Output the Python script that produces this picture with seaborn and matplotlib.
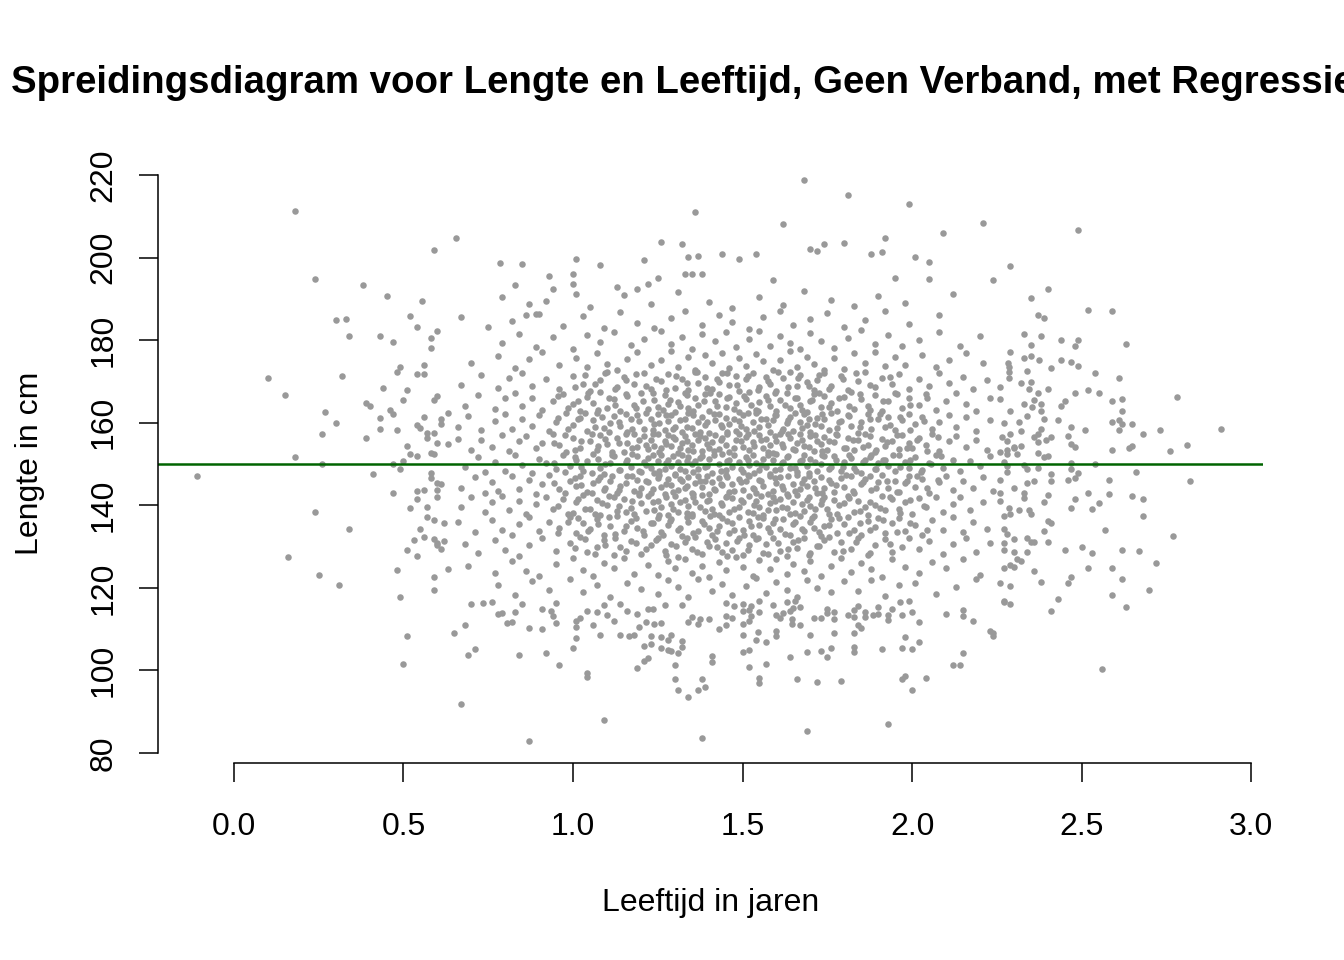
import pandas as pd
import matplotlib
matplotlib.use("Agg")
import matplotlib.pyplot as plt
import seaborn as sns

# Titels en assen
titel = "Spreidingsdiagram voor Lengte en Leeftijd, Geen Verband, met Regressielijn"
x_titel = "Leeftijd in jaren"
y_titel = "Lengte in cm"
x_ticks = [0.0, 0.5, 1.0, 1.5, 2.0, 2.5, 3.0]
x_labels = ["0.0", "0.5", "1.0", "1.5", "2.0", "2.5", "3.0"]
y_ticks = [80, 100, 120, 140, 160, 180, 200, 220]
y_labels = ["80", "100", "120", "140", "160", "180", "200", "220"]

regressie_intercept = 150.0
regressie_helling = 0.0

# Punten (leeftijd, lengte), afgelezen uit de figuur
# linkerrand
punten_links = [
    (-0.11, 147.2), (0.18, 211.3), (0.24, 194.8), (0.10, 170.8), (0.15, 166.7), (0.16, 127.5),
    (0.25, 123.1), (0.31, 120.7), (0.18, 151.7), (0.24, 138.4), (0.26, 150.0), (0.30, 184.9),
    (0.33, 185.1), (0.32, 171.3), (0.34, 181.0), (0.34, 134.3), (0.38, 193.4), (0.39, 164.8),
    (0.40, 164.1), (0.41, 147.6), (0.45, 190.7), (0.48, 124.3), (0.49, 117.8), (0.50, 101.6),
    (0.51, 108.3), (0.47, 143.0), (0.52, 185.9), (0.54, 183.2), (0.555, 189.5), (0.59, 201.8),
    (0.655, 204.8), (0.60, 182.3), (0.43, 181.0), (0.47, 179.6), (0.58, 180.5), (0.58, 178.1),
    (0.56, 174.0), (0.48, 172.3), (0.49, 173.5), (0.54, 171.8), (0.56, 171.8), (0.44, 168.4),
    (0.51, 167.9), (0.50, 165.5), (0.60, 166.5), (0.59, 165.5), (0.27, 162.6), (0.46, 163.1),
    (0.47, 162.1), (0.43, 161.2), (0.43, 158.5), (0.56, 161.4), (0.61, 160.9), (0.61, 159.7),
    (0.30, 159.9), (0.26, 157.3), (0.39, 156.3), (0.48, 158.2), (0.54, 159.5), (0.55, 158.7),
    (0.57, 157.5), (0.57, 156.3), (0.59, 157.5), (0.60, 155.1), (0.63, 154.8), (0.51, 154.4),
    (0.52, 152.4), (0.54, 151.9), (0.58, 152.7), (0.59, 152.4), (0.63, 162.4), (0.47, 150.0),
    (0.49, 148.8), (0.50, 150.7), (0.58, 147.8), (0.58, 146.6), (0.60, 145.4), (0.61, 145.2),
    (0.54, 143.5), (0.54, 141.5), (0.56, 143.7), (0.60, 143.7), (0.60, 142.0), (0.52, 139.3),
    (0.57, 139.6), (0.57, 137.2), (0.59, 136.4), (0.62, 135.7), (0.55, 134.3), (0.56, 132.3),
    (0.53, 131.6), (0.59, 131.8), (0.60, 130.9), (0.60, 130.4), (0.61, 129.4), (0.62, 131.4),
    (0.51, 129.2), (0.54, 127.7), (0.63, 124.6), (0.59, 122.6), (0.59, 119.5), (0.65, 109.1),
    (0.68, 111.0), (0.69, 103.8), (0.71, 105.2), (0.67, 91.9),
]

# bovenrand
punten_boven = [
    (0.785, 198.7), (0.85, 198.5), (1.01, 199.7), (1.08, 198.2), (1.21, 199.4), (1.26, 203.8),
    (1.32, 203.3), (1.36, 211.0), (1.34, 200.1), (1.37, 200.4), (1.44, 201.0), (0.93, 195.5),
    (1.00, 196.0), (1.00, 193.6), (0.83, 193.4), (0.79, 190.5), (0.94, 192.4), (1.01, 191.2),
    (0.87, 188.8), (0.86, 186.0), (0.89, 186.3), (0.67, 185.6), (0.75, 183.2), (1.13, 192.9),
    (1.19, 192.4), (1.22, 193.6), (1.25, 195.0), (1.33, 196.0), (1.35, 196.0), (1.38, 196.0),
    (1.68, 218.8), (1.81, 215.2), (1.99, 213.0), (2.21, 208.4), (1.62, 208.1), (2.09, 206.0),
    (1.92, 204.7), (1.74, 203.3), (1.80, 203.5), (1.70, 202.1), (1.72, 201.6), (1.88, 200.9),
    (1.91, 201.4), (2.01, 200.1), (2.05, 198.9), (2.29, 198.0), (2.24, 194.6), (1.49, 199.7),
    (1.54, 200.9), (1.59, 194.6), (1.95, 195.0), (2.05, 194.8),
]

# rechterrand
punten_rechts = [
    (2.49, 206.7), (2.40, 192.4), (2.35, 190.2), (2.52, 187.3), (2.59, 187.0), (2.37, 186.1),
    (2.39, 185.4), (2.63, 179.0), (2.44, 180.0), (2.49, 180.0), (2.48, 178.6), (2.33, 181.5),
    (2.38, 181.0), (2.35, 178.8), (2.78, 166.3), (2.91, 158.5), (2.81, 154.6), (2.76, 153.2),
    (2.73, 158.2), (2.68, 157.3), (2.65, 159.7), (2.61, 170.8), (2.59, 165.3), (2.62, 165.7),
    (2.62, 162.8), (2.54, 172.0), (2.52, 168.0), (2.55, 167.2), (2.59, 160.2), (2.61, 160.7),
    (2.62, 159.7), (2.61, 158.2), (2.59, 153.4), (2.64, 153.9), (2.65, 154.4), (2.51, 158.2),
    (2.47, 159.0), (2.46, 156.8), (2.47, 154.9), (2.48, 154.1), (2.44, 175.2), (2.47, 174.7),
    (2.49, 173.7), (2.41, 173.3), (2.48, 167.2), (2.45, 165.3), (2.44, 164.1), (2.43, 160.7),
    (2.56, 100.4), (2.41, 114.4), (2.43, 117.3), (2.63, 115.4), (2.70, 119.5), (2.59, 118.3),
    (2.62, 122.2), (2.72, 126.0), (2.52, 124.8), (2.59, 124.8), (2.46, 121.2), (2.47, 122.6),
    (2.38, 121.4), (2.36, 124.1), (2.29, 116.1), (2.27, 116.8), (2.29, 120.5), (2.45, 129.2),
    (2.50, 129.9), (2.53, 128.5), (2.62, 129.2), (2.67, 129.0), (2.57, 134.0), (2.77, 132.6),
    (2.68, 137.4), (2.68, 141.5), (2.65, 142.3), (2.58, 142.7), (2.55, 140.6), (2.53, 139.1),
    (2.82, 145.9), (2.66, 148.0), (2.58, 146.1), (2.54, 150.0), (2.47, 150.2), (2.47, 148.8),
    (2.49, 147.8), (2.46, 146.1), (2.48, 146.6), (2.48, 141.5), (2.47, 139.4), (2.52, 143.0),
    (2.39, 140.8), (2.40, 142.5), (2.41, 147.6), (2.41, 145.9), (2.39, 133.8), (2.40, 131.1),
    (2.40, 136.2), (2.41, 135.7),
    (2.283, 174.5), (2.285, 173.5), (2.286, 172.3), (2.285, 170.8), (2.29, 177.1), (2.26, 168.7),
    (2.26, 165.7), (2.27, 159.9), (2.29, 162.8), (2.32, 169.6), (2.33, 175.7), (2.35, 176.2),
    (2.375, 175.2), (2.34, 172.5), (2.35, 169.9), (2.345, 168.2), (2.37, 167.2), (2.40, 168.2),
    (2.36, 165.5), (2.33, 164.5), (2.34, 161.6), (2.355, 163.8), (2.38, 164.5), (2.38, 162.8),
    (2.39, 160.9), (2.38, 158.5), (2.37, 157.3), (2.36, 156.5), (2.395, 155.8), (2.41, 156.5),
    (2.37, 155.3), (2.32, 158.0), (2.315, 160.2), (2.29, 157.3), (2.265, 156.5), (2.28, 155.6),
    (2.30, 153.9), (2.32, 154.4), (2.28, 152.4), (2.31, 152.4), (2.37, 152.7), (2.39, 151.7),
    (2.40, 151.9), (2.26, 152.9), (2.28, 153.4), (2.30, 154.1), (2.27, 150.5), (2.28, 149.5),
    (2.28, 148.1), (2.26, 146.1), (2.30, 144.2), (2.26, 143.0), (2.26, 141.0), (2.285, 139.4),
    (2.27, 137.4), (2.29, 137.9), (2.315, 138.9), (2.33, 143.0), (2.33, 141.8), (2.345, 138.9),
    (2.35, 137.9), (2.27, 134.3), (2.28, 133.1), (2.30, 131.8), (2.27, 130.9), (2.27, 129.2),
    (2.30, 128.7), (2.34, 132.1), (2.35, 131.1), (2.36, 131.1), (2.34, 128.7), (2.31, 127.0),
    (2.32, 126.5), (2.29, 125.5), (2.27, 124.8), (2.30, 125.1), (2.26, 121.2), (2.37, 149.0),
    (2.36, 145.9), (2.34, 145.4), (2.34, 148.8), (2.33, 149.8),
]

# onderrand
punten_onder = [
    (0.87, 83.0), (1.09, 88.0), (1.38, 83.6), (1.04, 98.4), (1.04, 99.3), (0.96, 101.3),
    (0.84, 103.8), (0.92, 104.2), (1.19, 100.6), (1.30, 97.9), (1.31, 95.3), (1.34, 93.6),
    (1.37, 95.3), (1.39, 96.0), (1.38, 97.9), (1.41, 102.0), (1.41, 103.5), (1.21, 102.3),
    (1.22, 103.0), (1.69, 85.4), (1.93, 87.0), (2.00, 95.3), (1.97, 97.9), (1.98, 98.6),
    (2.04, 98.2), (2.12, 101.3), (2.14, 101.3), (2.15, 104.2), (1.55, 98.2), (1.55, 97.0),
    (1.66, 97.9), (1.72, 97.2), (1.79, 97.5), (1.57, 101.6), (1.52, 100.9), (1.64, 103.3),
    (1.50, 104.5), (1.52, 105.0), (1.69, 104.5), (1.73, 104.7), (1.75, 103.3), (1.76, 105.5),
    (1.83, 105.7), (1.83, 104.5), (1.91, 105.2), (1.97, 105.4), (2.00, 105.2), (2.02, 106.9),
    (1.98, 108.1), (2.23, 109.6), (2.24, 109.1), (2.24, 108.4),
    (0.70, 116.1), (0.735, 116.3), (0.76, 116.6), (0.78, 113.7), (0.79, 113.9), (0.83, 114.2),
    (0.85, 116.1), (0.805, 111.5), (0.82, 111.7), (0.87, 110.3), (0.91, 110.0), (0.91, 114.9),
    (0.935, 114.4), (0.94, 113.2), (0.95, 111.5), (0.95, 116.3), (1.00, 105.4), (1.01, 107.9),
    (1.01, 110.5), (1.01, 112.0), (1.02, 112.7), (1.04, 114.4), (1.07, 114.2), (1.06, 111.0),
    (1.08, 108.6), (1.09, 115.9), (1.10, 113.4), (1.12, 112.0), (1.14, 116.1), (1.16, 114.4),
    (1.19, 113.7), (1.14, 108.6), (1.165, 108.4), (1.18, 108.6), (1.195, 110.5), (1.215, 111.7),
    (1.22, 114.9), (1.235, 114.9), (1.23, 108.4), (1.21, 105.9), (1.23, 106.4), (1.26, 108.1),
    (1.28, 107.4), (1.29, 108.6), (1.26, 105.4), (1.28, 105.0), (1.29, 104.7), (1.31, 104.2),
    (1.32, 107.1), (1.32, 105.7), (1.30, 101.3), (1.24, 111.3), (1.26, 111.5), (1.27, 115.9),
    (1.32, 115.9), (1.34, 111.7), (1.35, 112.9), (1.375, 112.5), (1.37, 111.3), (1.40, 112.5),
    (1.43, 110.0), (1.45, 113.2), (1.45, 111.0),
    (1.45, 116.3), (1.475, 115.6), (1.50, 116.1), (1.525, 115.6), (1.55, 116.8), (1.59, 115.9),
    (1.63, 116.6), (1.655, 116.8), (1.67, 115.4), (1.47, 112.7), (1.50, 111.3), (1.52, 112.0),
    (1.525, 113.2), (1.50, 114.4), (1.52, 114.6), (1.55, 114.2), (1.60, 113.4), (1.61, 112.7),
    (1.62, 113.9), (1.64, 114.4), (1.65, 115.1), (1.645, 112.5), (1.645, 111.3), (1.67, 111.0),
    (1.50, 108.6), (1.545, 109.3), (1.54, 107.4), (1.57, 106.9), (1.60, 108.4), (1.60, 109.6),
    (1.70, 108.6), (1.71, 112.7), (1.73, 112.7), (1.75, 114.9), (1.75, 113.9), (1.77, 114.2),
    (1.77, 112.5), (1.77, 109.1), (1.81, 113.4), (1.83, 112.9), (1.83, 114.6), (1.84, 115.6),
    (1.84, 111.0), (1.85, 110.3), (1.83, 109.1), (1.86, 114.2), (1.86, 112.9), (1.885, 113.4),
    (1.90, 113.7), (1.90, 115.4), (1.93, 112.2), (1.93, 113.4), (1.94, 114.9), (1.97, 113.4),
    (1.965, 116.6), (1.99, 116.8), (2.00, 114.2), (2.02, 111.7), (2.10, 113.7), (2.15, 113.2),
    (2.15, 114.6), (2.18, 112.0), (2.27, 116.6),
]

# wolk, per band van 5 cm
band_120 = [
    (0.78, 120.6), (0.83, 118.2), (0.88, 121.7), (0.93, 119.4), (0.99, 122.1), (1.03, 119.0),
    (1.07, 120.8), (1.11, 117.9), (1.16, 121.3), (1.20, 119.7), (1.25, 118.5), (1.28, 121.9),
    (1.31, 120.1), (1.34, 117.8), (1.37, 122.2), (1.41, 119.2), (1.44, 121.0), (1.47, 118.3),
    (1.51, 120.5), (1.54, 122.3), (1.57, 118.7), (1.60, 121.4), (1.63, 119.6), (1.66, 117.7),
    (1.69, 121.8), (1.72, 120.0), (1.76, 118.9), (1.80, 121.6), (1.84, 119.3), (1.88, 122.0),
    (1.92, 118.1), (1.96, 120.7), (2.01, 121.2), (2.07, 118.6), (2.13, 120.3), (2.19, 122.2),
]
band_125 = [
    (0.69, 125.3), (0.77, 123.7), (0.82, 126.4), (0.86, 124.1), (0.90, 122.8), (0.95, 125.9),
    (1.00, 127.2), (1.03, 124.4), (1.06, 122.9), (1.09, 126.0), (1.12, 124.7), (1.15, 127.3),
    (1.18, 123.4), (1.22, 125.6), (1.25, 123.1), (1.28, 126.6), (1.30, 124.9), (1.33, 127.0),
    (1.35, 123.6), (1.38, 125.4), (1.40, 122.7), (1.43, 126.2), (1.45, 124.3), (1.48, 127.4),
    (1.50, 125.0), (1.53, 122.9), (1.55, 126.8), (1.58, 124.5), (1.60, 127.1), (1.63, 123.3),
    (1.65, 125.7), (1.68, 124.0), (1.70, 126.5), (1.73, 122.8), (1.76, 125.2), (1.79, 127.3),
    (1.82, 123.9), (1.85, 126.1), (1.88, 124.6), (1.91, 122.7), (1.94, 126.9), (1.98, 125.1),
    (2.02, 123.5), (2.06, 126.3), (2.10, 124.8), (2.15, 127.0), (2.20, 123.2),
]
band_130 = [
    (0.68, 130.7), (0.72, 128.4), (0.77, 131.6), (0.80, 129.1), (0.84, 127.8), (0.87, 130.3),
    (0.91, 132.0), (0.95, 128.9), (0.99, 130.8), (1.02, 132.3), (1.04, 128.6), (1.07, 130.0),
    (1.09, 131.7), (1.12, 127.9), (1.14, 129.8), (1.17, 131.4), (1.20, 128.3), (1.23, 130.5),
    (1.25, 132.1), (1.27, 128.9), (1.29, 130.6), (1.31, 127.6), (1.33, 131.2), (1.35, 129.4),
    (1.36, 132.3), (1.38, 128.2), (1.40, 130.1), (1.42, 131.8), (1.44, 128.7), (1.45, 130.9),
    (1.47, 129.2), (1.49, 132.0), (1.50, 128.0), (1.52, 130.4), (1.54, 131.9), (1.56, 128.5),
    (1.57, 130.7), (1.59, 132.2), (1.61, 129.0), (1.63, 127.7), (1.65, 131.0), (1.66, 129.6),
    (1.68, 132.1), (1.70, 128.4), (1.72, 130.2), (1.74, 131.5), (1.77, 128.8), (1.79, 131.1),
    (1.82, 129.5), (1.84, 132.2), (1.87, 127.9), (1.89, 130.4), (1.92, 131.8), (1.94, 128.6),
    (1.97, 130.0), (1.99, 132.0), (2.02, 129.3), (2.05, 131.4), (2.09, 128.1), (2.12, 130.6),
    (2.16, 132.1), (2.19, 128.8), (2.23, 130.9),
]
band_135 = [
    (0.66, 135.9), (0.71, 133.6), (0.76, 136.4), (0.79, 134.0), (0.82, 132.8), (0.84, 135.5),
    (0.87, 137.2), (0.90, 133.9), (0.93, 136.0), (0.96, 134.5), (0.99, 137.1), (1.01, 133.3),
    (1.03, 135.8), (1.05, 134.2), (1.07, 136.7), (1.09, 132.7), (1.11, 135.1), (1.13, 137.3),
    (1.15, 133.8), (1.17, 136.2), (1.19, 134.6), (1.21, 132.9), (1.23, 135.6), (1.25, 137.0),
    (1.26, 133.5), (1.28, 135.3), (1.29, 136.8), (1.31, 134.1), (1.32, 132.6), (1.34, 135.9),
    (1.35, 137.4), (1.37, 133.7), (1.38, 136.1), (1.40, 134.4), (1.41, 132.8), (1.43, 135.0),
    (1.44, 136.9), (1.46, 133.4), (1.47, 135.7), (1.49, 137.2), (1.50, 134.0), (1.52, 136.3),
    (1.53, 132.7), (1.55, 135.2), (1.56, 137.0), (1.58, 133.6), (1.59, 135.8), (1.61, 134.3),
    (1.62, 136.6), (1.64, 132.9), (1.65, 135.4), (1.67, 137.3), (1.68, 133.9), (1.70, 136.0),
    (1.71, 134.6), (1.73, 132.6), (1.74, 135.1), (1.76, 136.8), (1.78, 133.4), (1.80, 135.5),
    (1.81, 137.2), (1.83, 134.0), (1.85, 132.8), (1.87, 136.1), (1.89, 134.7), (1.90, 137.0),
    (1.92, 133.2), (1.94, 135.6), (1.96, 136.9), (1.98, 133.8), (2.01, 135.3), (2.03, 132.9),
    (2.06, 136.5), (2.09, 134.1), (2.12, 137.1), (2.15, 133.5), (2.18, 135.9), (2.22, 134.3),
]
band_140 = [
    (0.67, 139.6), (0.70, 141.9), (0.74, 138.3), (0.76, 140.7), (0.79, 142.2), (0.81, 138.9),
    (0.84, 141.1), (0.86, 137.8), (0.89, 140.3), (0.92, 142.0), (0.94, 139.2), (0.97, 141.5),
    (1.00, 138.1), (1.01, 140.9), (1.03, 142.4), (1.05, 139.0), (1.07, 141.2), (1.08, 137.7),
    (1.10, 140.2), (1.12, 142.1), (1.13, 138.6), (1.15, 141.6), (1.17, 139.4), (1.18, 137.9),
    (1.20, 140.6), (1.22, 142.3), (1.24, 138.8), (1.25, 141.0), (1.26, 139.5), (1.28, 137.6),
    (1.29, 140.4), (1.30, 142.2), (1.31, 138.5), (1.33, 141.4), (1.34, 139.8), (1.35, 137.9),
    (1.36, 140.9), (1.38, 142.4), (1.39, 138.7), (1.40, 141.3), (1.41, 139.2), (1.43, 137.7),
    (1.44, 140.0), (1.45, 142.0), (1.46, 138.4), (1.47, 141.7), (1.49, 139.6), (1.50, 140.8),
    (1.52, 142.3), (1.53, 138.2), (1.54, 141.1), (1.55, 139.7), (1.56, 137.6), (1.58, 140.5),
    (1.59, 142.1), (1.60, 138.9), (1.61, 141.5), (1.63, 139.3), (1.64, 137.8), (1.65, 140.7),
    (1.66, 142.4), (1.68, 138.6), (1.69, 141.2), (1.70, 139.9), (1.71, 137.5), (1.73, 140.3),
    (1.74, 142.0), (1.75, 139.1), (1.77, 141.4), (1.78, 137.9), (1.80, 140.6), (1.81, 142.2),
    (1.83, 138.4), (1.84, 141.0), (1.86, 139.5), (1.87, 137.6), (1.89, 140.2), (1.91, 142.3),
    (1.92, 138.8), (1.94, 141.6), (1.96, 139.2), (1.98, 140.9), (2.00, 138.0), (2.02, 141.8),
    (2.04, 139.7), (2.07, 142.1), (2.09, 138.5), (2.12, 140.4), (2.14, 141.9), (2.17, 138.9),
    (2.21, 140.7),
]
band_145 = [
    (0.67, 144.3), (0.71, 146.9), (0.74, 143.0), (0.76, 145.6), (0.78, 143.4), (0.82, 147.1),
    (0.84, 144.0), (0.87, 146.2), (0.89, 142.8), (0.91, 145.1), (0.93, 147.3), (0.96, 143.9),
    (0.99, 146.0), (1.01, 144.6), (1.02, 147.0), (1.04, 143.2), (1.06, 145.4), (1.08, 146.8),
    (1.09, 143.7), (1.11, 145.9), (1.13, 142.9), (1.14, 144.8), (1.16, 147.2), (1.18, 143.5),
    (1.19, 146.1), (1.20, 144.2), (1.22, 145.7), (1.23, 143.1), (1.25, 146.6), (1.26, 144.5),
    (1.27, 142.7), (1.28, 146.3), (1.29, 145.0), (1.30, 147.4), (1.31, 143.6), (1.32, 145.8),
    (1.33, 144.1), (1.34, 146.9), (1.35, 143.0), (1.36, 145.3), (1.37, 147.1), (1.38, 144.4),
    (1.39, 146.0), (1.40, 142.8), (1.41, 145.6), (1.42, 143.8), (1.43, 146.7), (1.44, 144.9),
    (1.45, 147.3), (1.46, 143.3), (1.47, 145.2), (1.49, 146.4), (1.50, 143.7), (1.51, 145.9),
    (1.52, 147.2), (1.53, 144.3), (1.54, 142.9), (1.55, 146.1), (1.56, 144.8), (1.58, 147.0),
    (1.59, 143.4), (1.60, 145.5), (1.61, 146.8), (1.62, 144.0), (1.63, 142.7), (1.65, 145.2),
    (1.66, 147.4), (1.67, 143.9), (1.68, 146.3), (1.69, 144.6), (1.71, 145.8), (1.72, 143.1),
    (1.73, 146.9), (1.74, 144.2), (1.76, 145.5), (1.77, 143.2), (1.79, 146.7), (1.80, 144.5),
    (1.82, 147.1), (1.83, 142.9), (1.85, 145.1), (1.86, 146.4), (1.88, 143.8), (1.90, 145.7),
    (1.91, 147.3), (1.93, 144.1), (1.95, 146.0), (1.96, 143.3), (1.98, 145.4), (1.99, 147.0),
    (2.01, 144.4), (2.03, 146.5), (2.05, 143.0), (2.08, 145.6), (2.10, 147.2), (2.12, 143.7),
    (2.15, 145.9), (2.18, 144.2), (2.21, 146.8), (2.24, 143.5),
]
band_150 = [
    (0.68, 149.2), (0.72, 151.8), (0.74, 148.1), (0.77, 150.6), (0.80, 148.4), (0.83, 152.1),
    (0.85, 149.7), (0.88, 147.9), (0.90, 151.2), (0.92, 150.3), (0.95, 148.8), (0.97, 152.3),
    (0.99, 149.5), (1.01, 151.0), (1.03, 148.2), (1.04, 150.8), (1.06, 152.4), (1.08, 149.1),
    (1.09, 147.7), (1.11, 150.2), (1.12, 151.9), (1.14, 148.6), (1.16, 150.9), (1.17, 149.4),
    (1.19, 152.0), (1.20, 148.0), (1.21, 150.5), (1.22, 151.4), (1.23, 149.0), (1.24, 147.8),
    (1.25, 150.7), (1.26, 152.2), (1.27, 148.9), (1.28, 151.1), (1.29, 149.6), (1.30, 147.6),
    (1.31, 150.4), (1.32, 152.3), (1.33, 148.3), (1.34, 151.6), (1.35, 149.9), (1.36, 150.8),
    (1.37, 148.7), (1.38, 152.0), (1.39, 149.2), (1.40, 151.3), (1.41, 147.9), (1.43, 150.1),
    (1.44, 152.4), (1.45, 148.5), (1.46, 151.0), (1.47, 149.3), (1.49, 150.6), (1.50, 148.1),
    (1.51, 151.7), (1.52, 149.8), (1.53, 152.2), (1.54, 150.3), (1.55, 148.6), (1.56, 151.2),
    (1.57, 149.4), (1.58, 147.7), (1.59, 150.9), (1.60, 152.4), (1.61, 148.9), (1.62, 150.5),
    (1.63, 151.8), (1.64, 149.1), (1.66, 148.0), (1.67, 150.7), (1.68, 152.1), (1.69, 149.6),
    (1.70, 151.3), (1.72, 148.4), (1.73, 150.0), (1.74, 151.9), (1.76, 149.3), (1.77, 152.0),
    (1.79, 148.2), (1.80, 150.6), (1.82, 151.5), (1.83, 149.0), (1.85, 147.8), (1.86, 150.9),
    (1.88, 152.3), (1.89, 148.7), (1.90, 150.2), (1.92, 151.1), (1.93, 149.5), (1.95, 148.3),
    (1.96, 152.2), (1.98, 150.4), (1.99, 149.1), (2.01, 151.6), (2.03, 148.5), (2.05, 150.3),
    (2.07, 152.1), (2.09, 149.0), (2.12, 151.0), (2.14, 148.2), (2.17, 150.7), (2.20, 149.6),
    (2.23, 151.9),
]
band_155 = [
    (0.66, 156.1), (0.70, 153.4), (0.73, 155.8), (0.76, 154.2), (0.79, 157.0), (0.81, 153.1),
    (0.84, 155.5), (0.86, 156.8), (0.89, 153.9), (0.91, 155.0), (0.94, 157.3), (0.96, 154.6),
    (0.98, 152.9), (1.00, 156.2), (1.02, 154.0), (1.05, 155.7), (1.07, 153.3), (1.08, 157.1),
    (1.10, 154.8), (1.13, 156.4), (1.15, 153.0), (1.16, 155.2), (1.18, 157.4), (1.19, 154.1),
    (1.21, 156.7), (1.22, 153.6), (1.23, 155.9), (1.24, 154.4), (1.25, 157.2), (1.26, 153.8),
    (1.27, 155.6), (1.28, 157.0), (1.29, 154.3), (1.30, 156.1), (1.31, 152.8), (1.32, 155.1),
    (1.33, 156.9), (1.34, 153.5), (1.35, 154.7), (1.36, 157.3), (1.37, 155.8), (1.38, 153.2),
    (1.39, 156.4), (1.40, 154.0), (1.41, 155.4), (1.42, 157.1), (1.43, 153.7), (1.44, 156.2),
    (1.45, 154.5), (1.46, 152.9), (1.48, 155.9), (1.49, 157.4), (1.50, 154.2), (1.51, 156.6),
    (1.52, 153.4), (1.53, 155.3), (1.55, 157.0), (1.56, 153.9), (1.57, 156.0), (1.58, 154.7),
    (1.59, 152.8), (1.60, 155.6), (1.61, 157.2), (1.62, 154.1), (1.64, 156.3), (1.65, 153.6),
    (1.66, 155.0), (1.67, 157.4), (1.68, 154.4), (1.70, 156.8), (1.71, 153.1), (1.72, 155.7),
    (1.73, 154.9), (1.74, 156.5), (1.75, 153.3), (1.77, 155.4), (1.78, 157.1), (1.80, 154.0),
    (1.81, 156.2), (1.83, 153.5), (1.84, 155.9), (1.86, 157.3), (1.87, 154.6), (1.89, 152.9),
    (1.91, 156.0), (1.92, 154.3), (1.94, 155.6), (1.96, 153.7), (1.97, 157.0), (1.99, 155.2),
    (2.00, 153.9), (2.02, 156.4), (2.04, 154.7), (2.06, 157.2), (2.08, 153.2), (2.11, 155.5),
    (2.13, 156.9), (2.16, 154.1), (2.19, 155.8), (2.22, 153.4),
]
band_160 = [
    (0.66, 159.0), (0.69, 161.7), (0.73, 158.2), (0.77, 160.4), (0.80, 162.1), (0.82, 158.6),
    (0.85, 160.9), (0.88, 159.3), (0.90, 161.8), (0.93, 158.0), (0.95, 160.2), (0.98, 162.3),
    (1.00, 159.5), (1.02, 161.2), (1.04, 157.9), (1.06, 160.6), (1.07, 162.4), (1.09, 158.8),
    (1.11, 160.0), (1.12, 161.6), (1.14, 159.2), (1.16, 157.7), (1.17, 160.8), (1.19, 162.0),
    (1.21, 158.5), (1.23, 161.0), (1.24, 159.7), (1.25, 162.2), (1.27, 158.3), (1.28, 160.5),
    (1.29, 161.9), (1.30, 159.1), (1.32, 157.8), (1.33, 160.9), (1.34, 162.4), (1.35, 158.7),
    (1.37, 160.3), (1.38, 161.5), (1.39, 159.4), (1.40, 157.6), (1.42, 160.7), (1.43, 162.1),
    (1.44, 158.9), (1.45, 161.2), (1.46, 159.8), (1.48, 157.9), (1.49, 160.4), (1.50, 161.8),
    (1.51, 158.6), (1.53, 160.1), (1.54, 162.3), (1.55, 159.0), (1.57, 161.0), (1.58, 157.7),
    (1.59, 160.6), (1.60, 162.0), (1.62, 158.4), (1.63, 159.9), (1.64, 161.5), (1.65, 158.1),
    (1.67, 160.3), (1.68, 162.2), (1.69, 159.5), (1.70, 157.8), (1.72, 161.1), (1.73, 159.2),
    (1.74, 160.8), (1.76, 162.4), (1.78, 158.8), (1.79, 160.5), (1.81, 161.9), (1.82, 159.3),
    (1.84, 157.6), (1.85, 160.2), (1.87, 162.1), (1.88, 158.5), (1.90, 160.9), (1.92, 159.0),
    (1.93, 161.4), (1.95, 158.2), (1.97, 160.7), (1.99, 162.2), (2.01, 159.6), (2.03, 161.3),
    (2.06, 158.4), (2.08, 160.1), (2.11, 162.0), (2.13, 159.1), (2.16, 161.5), (2.19, 158.0),
    (2.23, 160.6),
]
band_165 = [
    (0.68, 164.1), (0.72, 166.8), (0.77, 163.4), (0.80, 165.9), (0.83, 167.2), (0.85, 164.0),
    (0.88, 166.1), (0.91, 163.0), (0.94, 165.3), (0.97, 167.0), (1.00, 164.6), (1.02, 162.8),
    (1.04, 166.3), (1.06, 164.9), (1.08, 167.4), (1.10, 163.6), (1.12, 165.7), (1.14, 162.9),
    (1.16, 166.5), (1.18, 164.3), (1.20, 167.1), (1.22, 163.3), (1.24, 165.5), (1.25, 163.9),
    (1.27, 166.7), (1.28, 164.5), (1.30, 162.7), (1.31, 165.1), (1.33, 167.3), (1.34, 163.5),
    (1.36, 165.9), (1.37, 164.2), (1.39, 166.9), (1.40, 162.9), (1.42, 165.4), (1.43, 167.0),
    (1.45, 163.8), (1.46, 166.2), (1.48, 164.7), (1.49, 162.6), (1.51, 165.8), (1.52, 167.4),
    (1.54, 163.2), (1.55, 165.0), (1.57, 166.6), (1.58, 164.1), (1.60, 162.8), (1.61, 165.6),
    (1.63, 167.2), (1.64, 163.7), (1.66, 166.0), (1.67, 164.4), (1.69, 162.7), (1.70, 165.2),
    (1.71, 167.0), (1.73, 163.9), (1.74, 166.4), (1.76, 164.8), (1.78, 162.9), (1.80, 166.2),
    (1.82, 167.4), (1.83, 163.4), (1.85, 165.7), (1.87, 164.0), (1.89, 166.8), (1.91, 162.8),
    (1.93, 165.3), (1.95, 167.1), (1.97, 163.6), (1.99, 165.9), (2.02, 164.3), (2.04, 166.9),
    (2.07, 163.1), (2.10, 165.4), (2.13, 167.3), (2.16, 164.6), (2.19, 162.9), (2.23, 166.0),
]
band_170 = [
    (0.67, 169.2), (0.73, 171.5), (0.78, 168.4), (0.81, 170.9), (0.85, 172.1), (0.88, 169.0),
    (0.92, 170.6), (0.96, 168.1), (1.00, 171.3), (1.03, 169.5), (1.05, 167.8), (1.08, 170.4),
    (1.10, 172.2), (1.13, 168.7), (1.15, 171.0), (1.18, 169.3), (1.21, 172.0), (1.23, 168.2),
    (1.26, 170.1), (1.28, 171.8), (1.30, 168.5), (1.32, 170.7), (1.34, 167.9), (1.36, 172.3),
    (1.37, 169.6), (1.39, 171.2), (1.41, 168.3), (1.43, 170.0), (1.44, 172.0), (1.46, 169.1),
    (1.48, 171.4), (1.49, 167.7), (1.51, 170.5), (1.53, 172.1), (1.55, 168.6), (1.57, 171.0),
    (1.58, 169.4), (1.60, 167.8), (1.62, 170.8), (1.64, 172.3), (1.66, 168.9), (1.67, 171.6),
    (1.69, 169.8), (1.71, 168.0), (1.72, 170.3), (1.74, 172.0), (1.76, 169.0), (1.79, 171.4),
    (1.81, 167.9), (1.84, 170.2), (1.86, 172.2), (1.89, 168.6), (1.91, 170.9), (1.94, 169.4),
    (1.96, 171.8), (1.99, 168.3), (2.02, 170.6), (2.05, 168.8), (2.08, 172.0), (2.11, 169.7),
    (2.15, 171.1), (2.18, 168.2), (2.22, 170.4),
]
band_175 = [
    (0.70, 174.6), (0.78, 176.3), (0.83, 173.2), (0.87, 175.4), (0.91, 177.1), (0.96, 174.0),
    (1.01, 175.8), (1.04, 173.5), (1.07, 176.9), (1.10, 174.3), (1.13, 172.8), (1.16, 175.5),
    (1.19, 177.2), (1.23, 173.9), (1.26, 175.1), (1.29, 177.3), (1.31, 173.6), (1.34, 175.9),
    (1.36, 172.9), (1.39, 176.4), (1.41, 174.5), (1.44, 177.0), (1.46, 173.3), (1.49, 175.6),
    (1.51, 173.8), (1.54, 176.7), (1.56, 174.9), (1.59, 172.7), (1.61, 175.3), (1.64, 177.4),
    (1.66, 173.5), (1.69, 176.0), (1.71, 174.2), (1.74, 172.8), (1.77, 175.7), (1.80, 173.1),
    (1.83, 176.8), (1.86, 174.4), (1.89, 177.2), (1.92, 173.7), (1.95, 175.9), (1.98, 174.1),
    (2.03, 176.5), (2.07, 173.4), (2.11, 175.2), (2.16, 177.0), (2.21, 174.5),
]
band_180 = [
    (0.79, 179.4), (0.84, 181.6), (0.89, 178.3), (0.94, 180.7), (1.00, 178.0), (1.04, 181.2),
    (1.08, 179.5), (1.12, 182.1), (1.17, 178.8), (1.21, 180.4), (1.26, 182.3), (1.29, 179.1),
    (1.32, 180.9), (1.35, 177.8), (1.38, 181.5), (1.42, 179.8), (1.45, 182.0), (1.48, 178.4),
    (1.52, 180.2), (1.55, 182.2), (1.58, 178.6), (1.61, 181.0), (1.64, 179.3), (1.67, 177.9),
    (1.70, 181.8), (1.73, 179.9), (1.77, 178.2), (1.81, 180.6), (1.85, 182.4), (1.89, 179.0),
    (1.93, 181.3), (1.97, 178.5), (2.02, 180.1), (2.08, 182.0), (2.14, 178.7), (2.20, 181.1),
]
band_185 = [
    (0.82, 184.7), (0.90, 186.3), (0.97, 183.5), (1.03, 185.9), (1.09, 183.0), (1.14, 186.8),
    (1.19, 184.2), (1.24, 182.9), (1.29, 185.4), (1.33, 187.2), (1.38, 183.8), (1.43, 186.0),
    (1.47, 184.5), (1.52, 182.8), (1.56, 185.7), (1.61, 187.0), (1.65, 183.6), (1.70, 185.1),
    (1.75, 186.6), (1.80, 183.3), (1.86, 185.0), (1.92, 187.1), (1.99, 184.0), (2.08, 186.2),
]
band_190 = [
    (0.92, 189.5), (1.05, 188.1), (1.15, 190.9), (1.23, 188.8), (1.31, 191.6), (1.40, 189.2),
    (1.47, 187.9), (1.55, 190.4), (1.62, 188.5), (1.68, 191.9), (1.76, 189.7), (1.83, 188.2),
    (1.90, 190.8), (1.98, 189.0), (2.12, 191.3),
]

# extra punten in de dichte kern (1.0-2.0 jaar, 128-172 cm)
kern_130 = [
    (1.005, 129.6), (1.035, 131.8), (1.065, 128.2), (1.095, 130.5), (1.125, 132.0), (1.155, 128.9),
    (1.185, 130.9), (1.215, 129.3), (1.245, 131.5), (1.275, 127.9), (1.305, 130.2), (1.335, 132.2),
    (1.365, 128.6), (1.395, 131.0), (1.425, 129.8), (1.455, 127.8), (1.485, 131.3), (1.515, 129.1),
    (1.545, 132.1), (1.575, 128.3), (1.605, 130.8), (1.635, 129.5), (1.665, 131.7), (1.695, 128.0),
    (1.725, 130.1), (1.755, 132.3), (1.795, 129.0), (1.835, 131.2), (1.875, 128.5), (1.935, 130.7),
]
kern_135 = [
    (0.955, 133.2), (0.985, 135.9), (1.015, 137.0), (1.045, 133.7), (1.075, 135.4), (1.105, 137.2),
    (1.125, 133.0), (1.155, 135.0), (1.185, 136.9), (1.205, 133.9), (1.235, 135.7), (1.265, 132.9),
    (1.285, 136.3), (1.315, 134.6), (1.335, 137.1), (1.355, 133.2), (1.385, 135.5), (1.405, 137.3),
    (1.425, 133.8), (1.455, 136.2), (1.475, 134.1), (1.505, 132.8), (1.525, 135.0), (1.545, 137.2),
    (1.575, 134.5), (1.595, 136.8), (1.625, 133.1), (1.655, 135.9), (1.675, 134.2), (1.705, 137.0),
    (1.725, 133.5), (1.755, 135.3), (1.785, 136.9), (1.815, 133.2), (1.845, 135.8), (1.875, 134.1),
    (1.915, 136.4), (1.955, 133.6), (1.995, 135.6), (2.045, 134.0),
]
kern_140 = [
    (0.955, 139.8), (0.985, 137.8), (1.015, 141.5), (1.035, 139.2), (1.065, 137.9), (1.085, 140.6),
    (1.105, 142.3), (1.135, 139.9), (1.155, 138.3), (1.175, 141.0), (1.195, 142.4), (1.215, 138.7),
    (1.235, 140.8), (1.255, 137.7), (1.275, 141.9), (1.295, 139.0), (1.315, 140.7), (1.335, 138.2),
    (1.355, 142.1), (1.375, 139.6), (1.395, 141.1), (1.415, 137.8), (1.435, 140.5), (1.455, 142.3),
    (1.475, 139.0), (1.495, 141.2), (1.515, 138.4), (1.535, 140.1), (1.555, 142.2), (1.575, 138.8),
    (1.595, 141.0), (1.615, 139.5), (1.635, 142.3), (1.655, 138.1), (1.675, 140.3), (1.695, 142.0),
    (1.715, 139.0), (1.735, 141.4), (1.755, 137.8), (1.785, 140.0), (1.815, 141.8), (1.845, 138.6),
    (1.875, 140.7), (1.905, 139.3), (1.935, 142.1), (1.965, 138.2), (1.995, 141.3), (2.035, 139.8),
]
kern_145 = [
    (0.945, 145.4), (0.975, 143.0), (1.005, 146.7), (1.025, 144.9), (1.055, 142.9), (1.075, 146.2),
    (1.095, 144.2), (1.115, 147.2), (1.135, 143.6), (1.155, 145.5), (1.175, 147.0), (1.195, 143.0),
    (1.215, 145.9), (1.235, 144.0), (1.255, 147.3), (1.275, 145.1), (1.295, 143.3), (1.315, 146.3),
    (1.335, 144.8), (1.355, 142.8), (1.375, 145.9), (1.395, 147.2), (1.415, 143.9), (1.435, 145.2),
    (1.455, 146.9), (1.475, 143.4), (1.495, 145.6), (1.515, 147.3), (1.535, 144.0), (1.555, 145.9),
    (1.575, 142.8), (1.595, 146.6), (1.615, 144.6), (1.635, 147.1), (1.655, 143.4), (1.675, 145.4),
    (1.695, 147.0), (1.715, 144.3), (1.735, 142.9), (1.755, 146.1), (1.775, 144.9), (1.805, 147.3),
    (1.825, 143.5), (1.855, 145.7), (1.875, 147.1), (1.895, 144.2), (1.925, 146.0), (1.955, 143.3),
    (1.985, 145.9), (2.015, 147.2), (2.045, 144.1), (2.075, 146.2),
]
kern_150 = [
    (0.945, 150.2), (0.975, 148.1), (1.005, 151.6), (1.025, 149.4), (1.055, 147.9), (1.075, 151.2),
    (1.095, 149.9), (1.115, 152.2), (1.135, 148.6), (1.155, 150.6), (1.175, 152.4), (1.195, 148.4),
    (1.215, 149.8), (1.235, 152.2), (1.255, 148.2), (1.275, 150.3), (1.295, 152.0), (1.315, 148.9),
    (1.335, 150.7), (1.355, 148.0), (1.375, 151.5), (1.395, 149.5), (1.415, 152.3), (1.435, 148.4),
    (1.455, 150.8), (1.475, 152.1), (1.495, 148.9), (1.515, 150.9), (1.535, 147.8), (1.555, 149.7),
    (1.575, 152.3), (1.595, 148.5), (1.615, 150.2), (1.635, 152.0), (1.655, 149.0), (1.675, 151.1),
    (1.695, 147.9), (1.715, 150.4), (1.735, 152.3), (1.755, 148.7), (1.775, 150.9), (1.795, 149.4),
    (1.815, 152.1), (1.835, 148.2), (1.855, 150.5), (1.875, 151.8), (1.895, 148.8), (1.915, 150.9),
    (1.945, 152.2), (1.965, 149.2), (1.995, 151.0), (2.025, 148.0), (2.055, 150.1), (2.085, 152.0),
]
kern_155 = [
    (0.945, 155.2), (0.975, 157.1), (1.005, 153.4), (1.025, 155.6), (1.055, 157.3), (1.075, 154.3),
    (1.095, 156.0), (1.115, 152.9), (1.135, 155.2), (1.155, 157.2), (1.175, 153.8), (1.195, 155.9),
    (1.215, 154.5), (1.235, 157.3), (1.255, 153.0), (1.275, 154.8), (1.295, 156.6), (1.315, 154.0),
    (1.335, 155.6), (1.355, 153.2), (1.375, 156.9), (1.395, 154.9), (1.415, 153.2), (1.435, 155.9),
    (1.455, 157.3), (1.475, 153.8), (1.495, 155.5), (1.515, 157.2), (1.535, 154.3), (1.555, 155.8),
    (1.575, 153.0), (1.595, 156.8), (1.615, 154.9), (1.635, 157.2), (1.655, 153.5), (1.675, 155.8),
    (1.695, 154.1), (1.715, 157.0), (1.735, 153.2), (1.755, 155.5), (1.775, 157.3), (1.805, 153.9),
    (1.825, 155.8), (1.855, 154.2), (1.875, 156.7), (1.895, 153.3), (1.925, 155.4), (1.955, 157.0),
    (1.985, 154.0), (2.015, 155.9), (2.045, 153.1), (2.075, 156.6),
]
kern_160 = [
    (0.955, 161.2), (0.985, 158.4), (1.015, 160.9), (1.035, 162.3), (1.065, 158.9), (1.085, 161.4),
    (1.105, 157.8), (1.135, 160.3), (1.155, 162.1), (1.175, 158.6), (1.195, 160.5), (1.215, 162.4),
    (1.235, 158.2), (1.255, 160.0), (1.275, 161.8), (1.295, 158.4), (1.315, 160.6), (1.335, 159.1),
    (1.355, 161.9), (1.375, 157.8), (1.395, 160.2), (1.415, 162.2), (1.435, 159.5), (1.455, 157.7),
    (1.475, 161.0), (1.495, 159.2), (1.515, 162.3), (1.535, 158.1), (1.555, 160.8), (1.575, 159.5),
    (1.595, 162.0), (1.615, 157.9), (1.635, 160.6), (1.655, 162.3), (1.675, 158.7), (1.695, 161.0),
    (1.715, 159.6), (1.735, 162.1), (1.755, 158.2), (1.785, 160.2), (1.815, 161.7), (1.845, 158.9),
    (1.875, 160.9), (1.905, 162.2), (1.935, 159.5), (1.965, 161.4), (1.995, 158.3), (2.035, 160.5),
]
kern_165 = [
    (0.955, 166.4), (0.985, 163.7), (1.015, 165.4), (1.045, 167.3), (1.075, 163.0), (1.105, 165.9),
    (1.125, 164.2), (1.155, 167.0), (1.185, 163.6), (1.205, 165.2), (1.235, 167.1), (1.265, 163.2),
    (1.285, 165.6), (1.315, 164.0), (1.335, 166.7), (1.355, 162.8), (1.385, 165.3), (1.405, 167.2),
    (1.425, 164.1), (1.455, 165.9), (1.475, 163.3), (1.505, 166.6), (1.525, 164.4), (1.545, 162.9),
    (1.575, 165.6), (1.595, 167.3), (1.625, 164.2), (1.655, 166.1), (1.675, 163.0), (1.705, 165.5),
    (1.725, 167.2), (1.755, 163.8), (1.785, 165.9), (1.815, 164.0), (1.845, 166.9), (1.875, 163.1),
    (1.915, 165.4), (1.955, 167.0), (1.995, 164.2), (2.045, 166.0),
]
kern_170 = [
    (1.005, 168.6), (1.035, 171.6), (1.065, 169.3), (1.095, 172.1), (1.125, 168.1), (1.155, 170.4),
    (1.185, 171.9), (1.215, 168.9), (1.245, 170.7), (1.275, 168.0), (1.305, 171.4), (1.335, 169.6),
    (1.365, 172.2), (1.395, 168.4), (1.425, 170.6), (1.455, 172.0), (1.485, 169.1), (1.515, 171.3),
    (1.545, 167.9), (1.575, 170.2), (1.605, 172.3), (1.635, 168.7), (1.665, 170.9), (1.695, 169.0),
    (1.725, 171.7), (1.755, 168.3), (1.795, 170.5), (1.835, 172.1), (1.875, 169.2), (1.935, 171.0),
]

alle_punten = (punten_links + punten_boven + punten_rechts + punten_onder
               + band_120 + band_125 + band_130 + band_135 + band_140 + band_145
               + band_150 + band_155 + band_160 + band_165 + band_170 + band_175
               + band_180 + band_185 + band_190
               + kern_130 + kern_135 + kern_140 + kern_145 + kern_150 + kern_155
               + kern_160 + kern_165 + kern_170)
df = pd.DataFrame(alle_punten, columns=["Leeftijd", "Lengte"])

sns.set_theme(style="white")
plt.rcParams["font.family"] = ["Liberation Sans", "DejaVu Sans"]
plt.rcParams["text.color"] = "black"
plt.rcParams["axes.labelcolor"] = "black"

fig = plt.figure(figsize=(13.44, 9.6), dpi=100)
ax = fig.add_axes([158 / 1344, 197 / 960, 1105 / 1344, 606 / 960])

sns.scatterplot(data=df, x="Leeftijd", y="Lengte", ax=ax, color="#999999",
                s=22, linewidth=0, legend=False)
ax.axline((0, regressie_intercept), slope=regressie_helling, color="#006400", lw=1.8)

ax.set_xlim(-0.224, 3.035)
ax.set_ylim(77.57, 224.4)

# assen in R-stijl
ax.set_xticks(x_ticks)
ax.set_xticklabels(x_labels)
ax.set_yticks(y_ticks)
ax.set_yticklabels(y_labels, rotation=90, va="center")
for kant in ["top", "right"]:
    ax.spines[kant].set_visible(False)
for kant in ["bottom", "left"]:
    ax.spines[kant].set_color("black")
    ax.spines[kant].set_linewidth(1.1)
ax.spines["bottom"].set_bounds(0, 3)
ax.spines["left"].set_bounds(80, 220)
ax.tick_params(axis="both", which="major", bottom=True, left=True, direction="out",
               length=13.7, width=1.1, color="black", labelcolor="black", labelsize=23)
ax.tick_params(axis="x", pad=21.5)
ax.tick_params(axis="y", pad=15)

ax.set_xlabel(x_titel, fontsize=23, va="center", color="black")
ax.xaxis.set_label_coords(0.5, -0.231)
ax.set_ylabel(y_titel, fontsize=23, va="center", color="black")
ax.yaxis.set_label_coords(-0.1158, 0.495)
ax.set_title(titel, fontsize=27.6, fontweight="bold", y=1.1056, pad=0, color="black")

fig.savefig("out.png", dpi=100)
